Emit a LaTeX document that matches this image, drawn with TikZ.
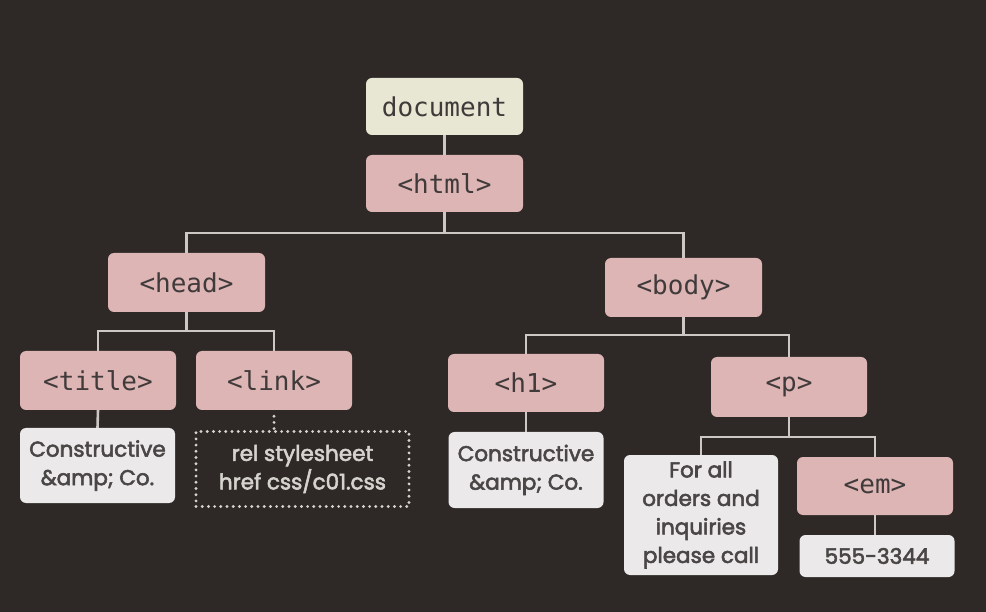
\documentclass[tikz,border=0pt]{standalone}
\usepackage{fontspec}
\newfontfamily\tagfont{DejaVu Sans Mono}
\newfontfamily\leaffont{Poppins}[BoldFont=Poppins, BoldFeatures={FakeBold=2.6}]
\definecolor{bg}{HTML}{2E2927}
\definecolor{pinkbox}{HTML}{DCB5B4}
\definecolor{creambox}{HTML}{E8E7D3}
\definecolor{whitebox}{HTML}{EBE9EA}
\definecolor{inktext}{HTML}{403A3A}
\definecolor{leafink}{HTML}{4A4646}
\definecolor{wire}{HTML}{CDC8C4}
\definecolor{dotgray}{HTML}{D6D2CE}
\tikzset{
  tagbox/.style={fill=pinkbox, rounded corners=6pt, inner sep=0pt, align=center,
    text=inktext, font=\tagfont\fontsize{26}{28}\selectfont},
  docbox/.style={tagbox, fill=creambox},
  leafbox/.style={fill=whitebox, rounded corners=6pt, inner sep=0pt, align=center,
    text=leafink, font=\leaffont\bfseries\fontsize{21.5}{28.5}\selectfont},
  attrbox/.style={draw=dotgray, line width=3.2pt, line cap=round, dash pattern=on 0pt off 6.2pt,
    inner sep=0pt, align=center, text=dotgray, font=\leaffont\bfseries\fontsize{21.5}{28.5}\selectfont},
  wireline/.style={draw=wire, line width=2.6pt},
  dotwire/.style={draw=dotgray, line width=3.2pt, line cap=round, dash pattern=on 0pt off 6.2pt},
}
\begin{document}
\begin{tikzpicture}[x=1pt,y=-1pt]
\fill[bg] (0,0) rectangle (986,612);
\useasboundingbox (0,0) rectangle (986,612);
% nodes
\node[docbox, minimum width=157pt, minimum height=57pt] (doc) at (444.5,106.5) {document};
\node[tagbox, minimum width=157pt, minimum height=57pt] (html) at (444.5,183.5) {<html>};
\node[tagbox, minimum width=157pt, minimum height=59pt] (head) at (186.5,282.5) {<head>};
\node[tagbox, minimum width=157pt, minimum height=59pt] (body) at (683.5,287.5) {<body>};
\node[tagbox, minimum width=156pt, minimum height=59pt] (title) at (98,380.5) {<title>};
\node[tagbox, minimum width=156pt, minimum height=59pt] (link) at (274,380.5) {<link>};
\node[tagbox, minimum width=156pt, minimum height=58pt] (h1) at (526,383) {<h1>};
\node[tagbox, minimum width=156pt, minimum height=60pt] (p) at (789,387) {<p>};
\node[tagbox, minimum width=156pt, minimum height=58pt] (em) at (875,486) {<em>};
\node[leafbox, minimum width=155pt, minimum height=75pt] (titletext) at (97.5,465.5) {Constructive\\\&amp; Co.};
\node[attrbox, minimum width=213pt, minimum height=75pt] (linkattr) at (302.5,469) {rel stylesheet\\href css/c01.css};
\node[leafbox, minimum width=155pt, minimum height=76pt] (h1text) at (526,470) {Constructive\\\&amp; Co.};
\node[leafbox, minimum width=154pt, minimum height=120pt] (ptext) at (701,515) {For all\\orders and\\inquiries\\please call};
\node[leafbox, minimum width=155pt, minimum height=42pt] (phone) at (877,556) {555-3344};
% junctions
\coordinate (j1) at (444.5,233);
\coordinate (j2) at (186.5,331);
\coordinate (j3) at (683.5,335);
\coordinate (j4) at (789,437);
% connectors
\draw[wireline] (doc.south) -- (html.north);
\draw[wireline] (html.south) -- (j1);
\draw[wireline] (head.north) -- (head.north |- j1) -- (body.north |- j1) -- (body.north);
\draw[wireline] (head.south) -- (j2);
\draw[wireline] (title.north) -- (title.north |- j2) -- (link.north |- j2) -- (link.north);
\draw[wireline] (body.south) -- (j3);
\draw[wireline] (h1.north) -- (h1.north |- j3) -- (p.north |- j3) -- (p.north);
\draw[wireline] (p.south) -- (j4);
\draw[wireline] (ptext.north) -- (ptext.north |- j4) -- (em.north |- j4) -- (em.north);
\draw[wireline] (title.south) -- (titletext.north);
\draw[wireline] (h1.south) -- (h1text.north);
\draw[wireline] (em.south) -- (em.south |- phone.north);
\draw[dotwire] (link.south) ++(0,6) -- (link.south |- linkattr.north);
\end{tikzpicture}
\end{document}
